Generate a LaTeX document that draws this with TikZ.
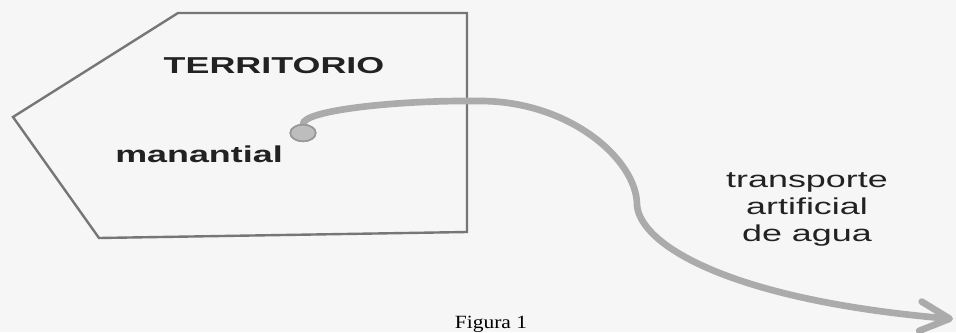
\documentclass[tikz,border=0pt]{standalone}
\usepackage{fontspec}
\usepackage{graphicx}
\setmainfont{Liberation Sans}
\newfontfamily\serifrm{Liberation Serif}
\usetikzlibrary{arrows.meta,shapes.geometric}
\definecolor{bgc}{HTML}{F6F6F6}
\definecolor{terr}{HTML}{767676}
\definecolor{pipe}{HTML}{ABABAB}
\definecolor{dotfill}{HTML}{BDBDBD}
\definecolor{dotdraw}{HTML}{979797}
\definecolor{ink}{HTML}{222222}
\tikzset{
  territory/.style={draw=terr, line width=1.8pt, line join=miter},
  boldlabel/.style={font=\fontsize{17.25pt}{20pt}\selectfont\bfseries, text=ink, inner sep=0pt},
  plainlabel/.style={font=\fontsize{17.25pt}{20.25pt}\selectfont, text=ink, inner sep=0pt, align=center},
  caption/.style={font=\serifrm\fontsize{14pt}{16pt}\selectfont, text=black, inner sep=0pt},
  spring/.style={ellipse, draw=dotdraw, fill=dotfill, line width=1.2pt, minimum width=19pt, minimum height=12.5pt, inner sep=0pt},
  pipeline/.style={draw=pipe, line width=5pt, line cap=round, -{Straight Barb[length=22pt, width=22pt, round]}}
}
\begin{document}
\begin{tikzpicture}[x=0.75pt, y=-0.75pt]
  \fill[bgc] (0,0) rectangle (956,332);
  \useasboundingbox (0,0) rectangle (956,332);
  % territory outline
  \draw[territory] (178,13) -- (467,13) -- (467,232) -- (99,238) -- (13,117) -- cycle;
  % labels
  \node[boldlabel, anchor=base] (terr) at (274,73) {\scalebox{1.56}[1]{TERRITORIO}};
  \node[boldlabel, anchor=base west] (man) at (115,162) {\scalebox{1.56}[1]{manantial}};
  \node[plainlabel, anchor=base] (trans) at (807,241) {\scalebox{1.56}[1]{transporte}\\\scalebox{1.56}[1]{artificial}\\\scalebox{1.56}[1]{de agua}};
  \node[caption, anchor=base] (fig) at (491,328) {\scalebox{1.15}[1]{Figura 1}};
  % spring and pipeline
  \node[spring] (src) at (303,133) {};
  \coordinate (endpt) at (953,319);
  \draw[pipeline] (src.north) .. controls (304,110) and (400,100) .. (480,101)
     .. controls (570,101) and (637,160) .. (637,205)
     .. controls (640,245) and (730,300) .. (endpt);
  \node[spring] at (src) {};
\end{tikzpicture}
\end{document}
